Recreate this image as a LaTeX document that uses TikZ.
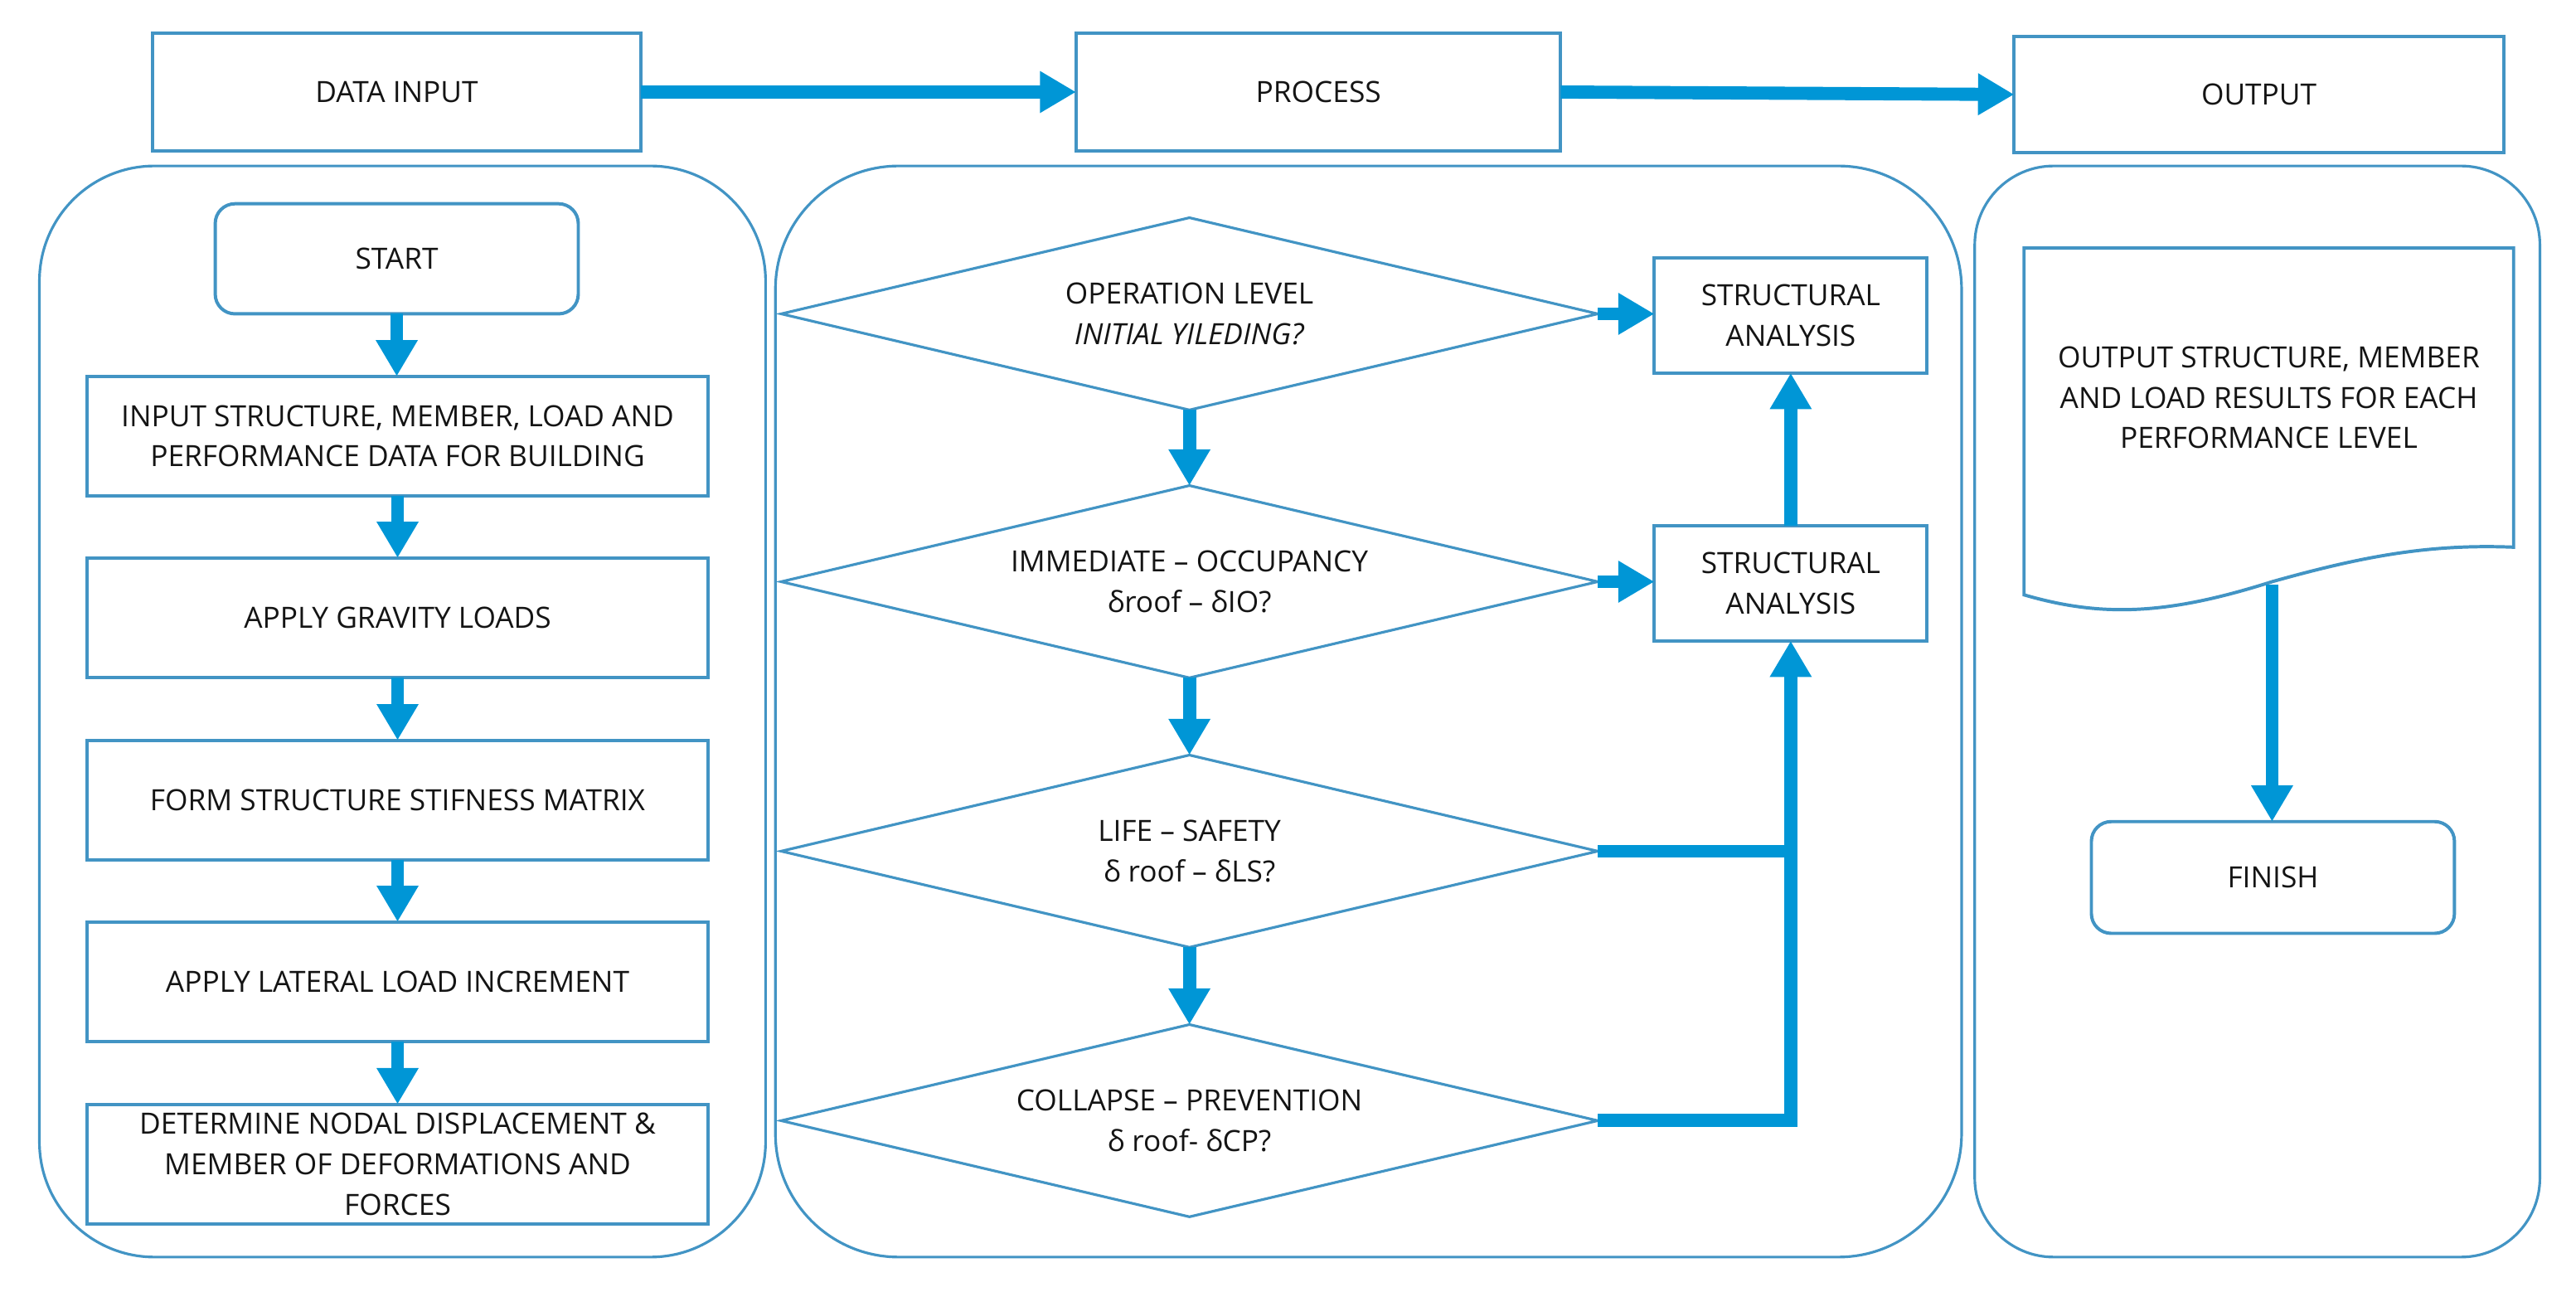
\documentclass[tikz,border=0pt]{standalone}
\usepackage{fontspec}
\setmainfont{Open Sans}
\usetikzlibrary{arrows.meta,shapes.geometric}
\definecolor{bord}{RGB}{66,148,196}
\definecolor{arr}{RGB}{0,150,214}
\definecolor{txt}{RGB}{20,20,20}
\begin{document}
\begin{tikzpicture}[x=1pt,y=-1pt,
 every node/.style={font=\fontsize{17.8}{24.5}\selectfont, text=txt, align=center, inner sep=0pt, outer sep=0pt},
 box/.style={draw=bord, line width=2pt, rectangle, fill=white},
 rbox/.style={box, rounded corners=12pt},
 panel/.style={draw=bord, line width=1.6pt, rectangle},
 dia/.style={draw=bord, line width=1.6pt, diamond, aspect=4.25, minimum width=497pt, minimum height=117pt, fill=white},
 flow/.style={draw=arr, line width=8pt, line join=miter, -{Triangle[width=24pt,length=22pt]}},
 flowline/.style={draw=arr, line width=8pt}
]
\useasboundingbox (0,0) rectangle (1568,785.8);

% panels
\node[panel, rounded corners=70pt, minimum width=442pt, minimum height=664pt] (lpanel) at (245,433) {};
\node[panel, rounded corners=75pt, minimum width=722pt, minimum height=664pt] (mpanel) at (833,433) {};
\node[panel, rounded corners=48pt, minimum width=344pt, minimum height=664pt] (rpanel) at (1374,433) {};

% top row
\node[box, minimum width=297pt, minimum height=72pt] (din) at (241.5,56) {DATA INPUT};
\node[box, minimum width=295pt, minimum height=72pt] (proc) at (802.5,56) {PROCESS};
\node[box, minimum width=298pt, minimum height=71pt] (out) at (1375,57.5) {OUTPUT};
\draw[flow] (din.east) -- (proc.west);
\draw[flow] (proc.east) -- (out.west);

% left column
\node[rbox, minimum width=221pt, minimum height=67pt] (start) at (241.5,157.5) {START};
\node[box, minimum width=378pt, minimum height=73pt] (inp) at (242,265.5) {INPUT STRUCTURE, MEMBER, LOAD AND\\PERFORMANCE DATA FOR BUILDING};
\node[box, minimum width=378pt, minimum height=73pt] (grav) at (242,376) {APPLY GRAVITY LOADS};
\node[box, minimum width=378pt, minimum height=73pt] (stif) at (242,487) {FORM STRUCTURE STIFNESS MATRIX};
\node[box, minimum width=378pt, minimum height=73pt] (lat) at (242,597.5) {APPLY LATERAL LOAD INCREMENT};
\node[box, minimum width=378pt, minimum height=73pt] (det) at (242,708.5) {DETERMINE NODAL DISPLACEMENT \&\\MEMBER OF DEFORMATIONS AND\\FORCES};
\draw[flow] (start.south) -- (start.south |- inp.north);
\draw[flow] (inp.south) -- (grav.north);
\draw[flow] (grav.south) -- (stif.north);
\draw[flow] (stif.south) -- (lat.north);
\draw[flow] (lat.south) -- (det.north);

% middle column
\node[dia] (d1) at (724,191) {OPERATION LEVEL\\\textit{INITIAL YILEDING?}};
\node[dia] (d2) at (724,354) {IMMEDIATE – OCCUPANCY\\δroof – δIO?};
\node[dia] (d3) at (724,518) {LIFE – SAFETY\\δ roof – δLS?};
\node[dia] (d4) at (724,682) {COLLAPSE – PREVENTION\\δ roof- δCP?};
\node[box, minimum width=166pt, minimum height=70pt] (sa1) at (1090,192) {STRUCTURAL\\ANALYSIS};
\node[box, minimum width=166pt, minimum height=70pt] (sa2) at (1090,355) {STRUCTURAL\\ANALYSIS};
\draw[flow] (d1.south) -- (d2.north);
\draw[flow] (d2.south) -- (d3.north);
\draw[flow] (d3.south) -- (d4.north);
\draw[flow] (d1.east) -- (d1.east -| sa1.west);
\draw[flow] (d2.east) -- (d2.east -| sa2.west);
\draw[flow] (sa2.north) -- (sa1.south);
\coordinate (j3) at (1090,518);
\draw[flowline] (d3.east) -- ([xshift=4pt]j3);
\draw[flow] (d4.east) -| (sa2.south);

% right column
\draw[draw=bord, line width=2pt, fill=white] (1232,151) -- (1530,151) -- (1530,333)
  .. controls (1480,331) and (1440,338) .. (1383,354)
  .. controls (1320,374) and (1280,376) .. (1232,362) -- cycle;
\node (doc) at (1381,242) {OUTPUT STRUCTURE, MEMBER\\AND LOAD RESULTS FOR EACH\\PERFORMANCE LEVEL};
\coordinate (docb) at (1383,356);
\node[rbox, minimum width=221pt, minimum height=68pt] (fin) at (1383.5,534) {FINISH};
\draw[flow] (docb) -- (docb |- fin.north);
\end{tikzpicture}
\end{document}
